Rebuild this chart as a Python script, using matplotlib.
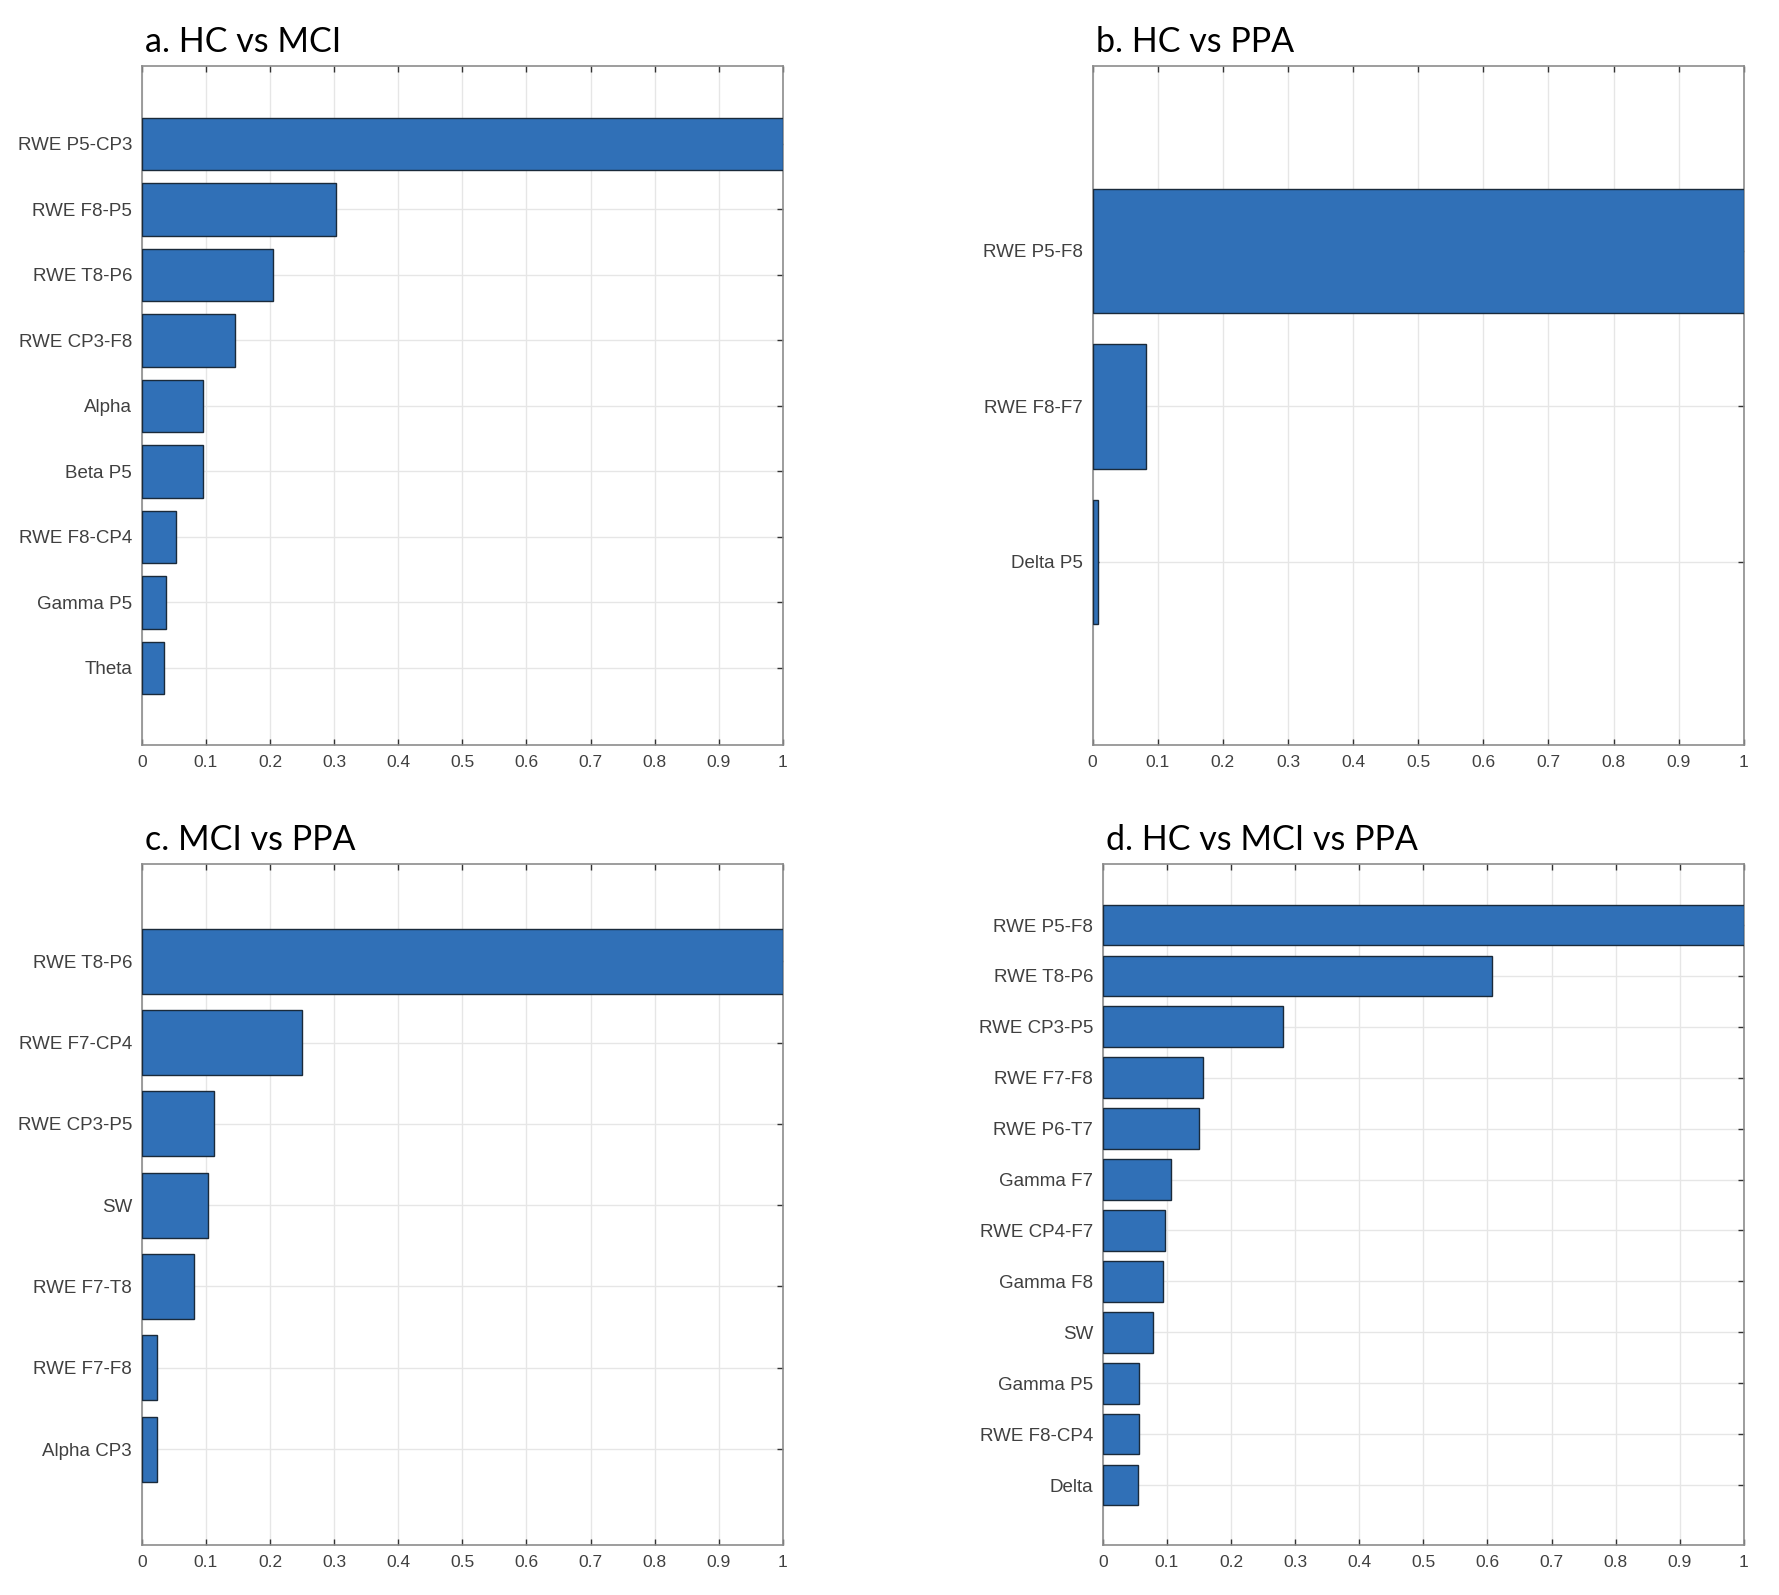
import matplotlib
matplotlib.use("Agg")
import matplotlib.pyplot as plt
import numpy as np

# Данные (сверху вниз, как на рисунке)
labels_a = ["RWE P5-CP3", "RWE F8-P5", "RWE T8-P6", "RWE CP3-F8", "Alpha",
            "Beta P5", "RWE F8-CP4", "Gamma P5", "Theta"]
values_a = [1.0, 0.303, 0.205, 0.145, 0.096, 0.095, 0.053, 0.037, 0.035]

labels_b = ["RWE P5-F8", "RWE F8-F7", "Delta P5"]
values_b = [1.0, 0.082, 0.008]

labels_c = ["RWE T8-P6", "RWE F7-CP4", "RWE CP3-P5", "SW", "RWE F7-T8",
            "RWE F7-F8", "Alpha CP3"]
values_c = [1.0, 0.25, 0.112, 0.104, 0.081, 0.023, 0.023]

labels_d = ["RWE P5-F8", "RWE T8-P6", "RWE CP3-P5", "RWE F7-F8", "RWE P6-T7",
            "Gamma F7", "RWE CP4-F7", "Gamma F8", "SW", "Gamma P5",
            "RWE F8-CP4", "Delta"]
values_d = [1.0, 0.607, 0.281, 0.156, 0.150, 0.106, 0.097, 0.094, 0.078,
            0.057, 0.057, 0.055]

titles = ["a. HC vs MCI", "b. HC vs PPA", "c. MCI vs PPA", "d. HC vs MCI vs PPA"]

BAR_COLOR = "#3070b7"
TICK_COLOR = "#404040"

W, H = 1568.0, 1406.0
# позиции осей в пикселях (left, top, right, bottom)
boxes = [(125, 58, 690, 657), (963, 58, 1537, 657),
         (125, 762, 690, 1362), (972, 762, 1537, 1362)]


def draw_panel(fig, box, labels, values, title):
    l, t, r, b = box
    ax = fig.add_axes([l / W, 1 - b / H, (r - l) / W, (b - t) / H])
    n = len(labels)
    pos = np.arange(1, n + 1)
    ax.barh(pos, values, height=0.8, color=BAR_COLOR, edgecolor="#1a2a3a",
            linewidth=1.0, zorder=3)
    ax.set_xlim(0, 1)
    ax.set_ylim(n + 1.18, 1 - 1.19)
    ax.set_yticks(pos)
    ax.set_yticklabels(labels, fontfamily="Liberation Sans", fontsize=13.5,
                       color=TICK_COLOR)
    ax.set_xticks(np.linspace(0, 1, 11))
    ax.set_xticklabels(["0", "0.1", "0.2", "0.3", "0.4", "0.5", "0.6", "0.7",
                        "0.8", "0.9", "1"], fontfamily="Liberation Sans",
                       fontsize=12.5, color=TICK_COLOR)
    ax.tick_params(direction="in", length=4, width=1, color="#333333",
                   top=True, right=True, pad=7)
    ax.grid(True, color="#e6e6e6", linewidth=1.0, zorder=0)
    for sp in ax.spines.values():
        sp.set_color("#8c8c8c")
        sp.set_linewidth(1.2)
    ax.text(0.005, 1.012, title, transform=ax.transAxes, fontfamily="Lato",
            fontsize=24.5, color="black", ha="left", va="bottom")
    return ax


fig = plt.figure(figsize=(17.79, 15.95), dpi=100)
draw_panel(fig, boxes[0], labels_a, values_a, titles[0])
draw_panel(fig, boxes[1], labels_b, values_b, titles[1])
draw_panel(fig, boxes[2], labels_c, values_c, titles[2])
draw_panel(fig, boxes[3], labels_d, values_d, titles[3])

fig.savefig("out.png", dpi=100, facecolor="white")
